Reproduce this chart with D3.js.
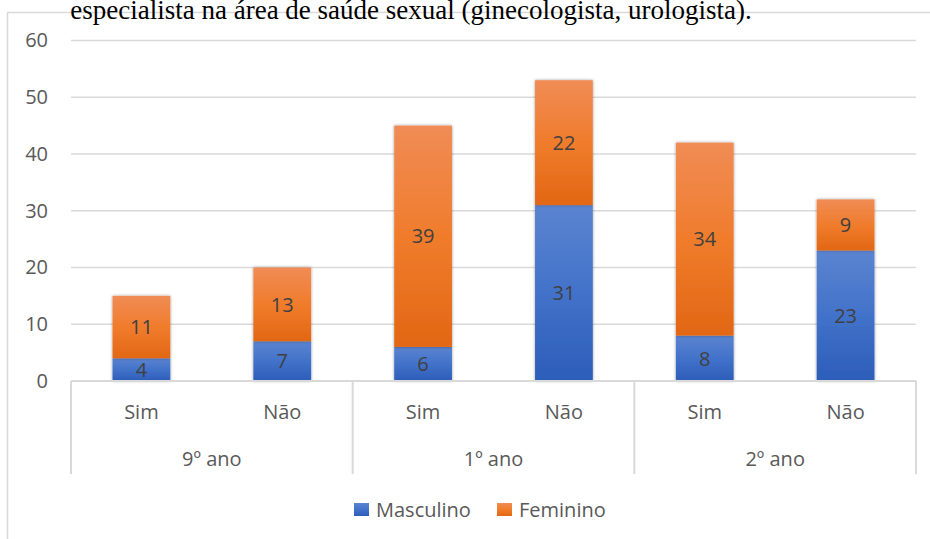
<!DOCTYPE html>
<html>
<head>
<meta charset="utf-8">
<script src="https://cdn.jsdelivr.net/npm/d3@7"></script>
<style>
  body { margin: 0; background: #fff; }
  text { font-family: "Open Sans", "Noto Sans", sans-serif; }
</style>
</head>
<body>
<div id="plot"></div>
<script>
// data
const groups = ["9º ano", "1º ano", "2º ano"];
const answers = ["Sim", "Não"];
const masculino = [4, 7, 6, 31, 8, 23];
const feminino = [11, 13, 39, 22, 34, 9];
const seriesNames = ["Masculino", "Feminino"];
const yTicks = [0, 10, 20, 30, 40, 50, 60];
const titleText = "especialista na área de saúde sexual (ginecologista, urologista).";

const width = 930, height = 539;
const margin = { top: 40.5, right: 14, bottom: 158, left: 71 };
const plotW = width - margin.left - margin.right;
const plotH = height - margin.top - margin.bottom;
const fontSize = "20px";

const svg = d3.select("div#plot")
  .append("svg")
  .attr("width", width)
  .attr("height", height);

// gradients + shadow
const defs = svg.append("defs");
const grads = [
  { id: "gMasc", stops: ["#5b84d0", "#4272c9", "#2c5db9"] },
  { id: "gFem", stops: ["#f08c55", "#f07c2c", "#e26714"] }
];
grads.forEach(g => {
  const lg = defs.append("linearGradient").attr("id", g.id)
    .attr("x1", 0).attr("y1", 0).attr("x2", 0).attr("y2", 1);
  g.stops.forEach((c, i) => lg.append("stop").attr("offset", i / (g.stops.length - 1)).attr("stop-color", c));
});
const filt = defs.append("filter").attr("id", "shadow")
  .attr("x", "-20%").attr("y", "-20%").attr("width", "140%").attr("height", "140%");
filt.append("feDropShadow").attr("dx", 0).attr("dy", 0).attr("stdDeviation", 1.8)
  .attr("flood-color", "#000").attr("flood-opacity", 0.4);

// chart frame (only left and top edges show)
svg.append("line").attr("x1", 7.5).attr("x2", 7.5).attr("y1", 12).attr("y2", height)
  .attr("stroke", "#d9d9d9").attr("stroke-width", 1.5);
svg.append("line").attr("x1", 7).attr("x2", width).attr("y1", 12.5).attr("y2", 12.5)
  .attr("stroke", "#d9d9d9").attr("stroke-width", 1.5);

// title (cut off at the top, as in the source)
svg.append("text")
  .attr("x", 411).attr("y", 19)
  .attr("text-anchor", "middle")
  .style("font-family", "'Liberation Serif', 'Times New Roman', serif")
  .style("font-size", "27px")
  .attr("fill", "#000")
  .text(titleText);

const g = svg.append("g").attr("transform", `translate(${margin.left},${margin.top})`);

const cats = [];
groups.forEach(gr => answers.forEach(a => cats.push(gr + "|" + a)));

const x = d3.scaleBand().domain(cats).range([0, plotW]).paddingInner(0.59).paddingOuter(0.295);
const y = d3.scaleLinear().domain([0, 60]).range([plotH, 0]);

// gridlines
g.append("g")
  .selectAll("line")
  .data(yTicks.filter(d => d > 0))
  .join("line")
  .attr("x1", 0).attr("x2", plotW)
  .attr("y1", d => y(d)).attr("y2", d => y(d))
  .attr("stroke", "#d9d9d9").attr("stroke-width", 1.3);

// y axis labels
const yAxis = g.append("g").call(d3.axisLeft(y).tickValues(yTicks).tickSize(0).tickPadding(23));
yAxis.select(".domain").remove();
yAxis.selectAll("text").attr("fill", "#595959").style("font-size", fontSize)
  .style("font-family", "'Open Sans', sans-serif");

// stacked bars
const rows = cats.map((c, i) => ({ key: c, Masculino: masculino[i], Feminino: feminino[i] }));
const stacked = d3.stack().keys(seriesNames)(rows);
const fills = ["url(#gMasc)", "url(#gFem)"];

stacked.forEach((layer, li) => {
  g.append("g").selectAll("rect")
    .data(layer)
    .join("rect")
    .attr("x", d => x(d.data.key))
    .attr("width", x.bandwidth())
    .attr("y", d => y(d[1]))
    .attr("height", d => y(d[0]) - y(d[1]))
    .attr("fill", fills[li])
    .attr("filter", "url(#shadow)");
});

// data labels
stacked.forEach(layer => {
  g.append("g").selectAll("text")
    .data(layer)
    .join("text")
    .attr("x", d => x(d.data.key) + x.bandwidth() / 2)
    .attr("y", d => (y(d[0]) + y(d[1])) / 2)
    .attr("dy", "0.36em")
    .attr("text-anchor", "middle")
    .attr("fill", "#404040")
    .style("font-size", fontSize)
    .text(d => d[1] - d[0]);
});

// category axis box
const axisCol = "#d9d9d9";
g.append("line").attr("x1", 0).attr("x2", plotW).attr("y1", plotH).attr("y2", plotH)
  .attr("stroke", axisCol).attr("stroke-width", 2);
const groupW = plotW / groups.length;
g.append("g").selectAll("line")
  .data(d3.range(groups.length + 1))
  .join("line")
  .attr("x1", d => d * groupW).attr("x2", d => d * groupW)
  .attr("y1", plotH).attr("y2", plotH + 93)
  .attr("stroke", axisCol).attr("stroke-width", 2);

// answer labels
g.append("g").selectAll("text")
  .data(cats)
  .join("text")
  .attr("x", d => x(d) + x.bandwidth() / 2)
  .attr("y", plotH + 31)
  .attr("dy", "0.36em")
  .attr("text-anchor", "middle")
  .attr("fill", "#595959")
  .style("font-size", fontSize)
  .text(d => d.split("|")[1]);

// group labels
g.append("g").selectAll("text")
  .data(groups)
  .join("text")
  .attr("x", (d, i) => i * groupW + groupW / 2)
  .attr("y", plotH + 78)
  .attr("dy", "0.36em")
  .attr("text-anchor", "middle")
  .attr("fill", "#595959")
  .style("font-size", fontSize)
  .text(d => d);

// legend
const legend = svg.append("g").attr("transform", "translate(354,503)");
const legendX = [0, 143];
seriesNames.forEach((s, i) => {
  const lg = legend.append("g").attr("transform", `translate(${legendX[i]},0)`);
  lg.append("rect").attr("width", 15).attr("height", 13).attr("fill", fills[i]);
  lg.append("text").attr("x", 22).attr("y", 7).attr("dy", "0.36em")
    .attr("fill", "#595959").style("font-size", fontSize).text(s);
});
</script>
</body>
</html>
